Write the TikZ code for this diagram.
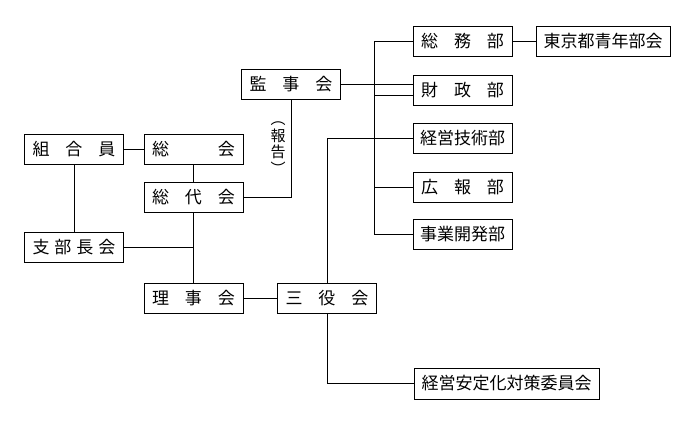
\documentclass[tikz,border=0pt]{standalone}
\usepackage{fontspec}
\newfontfamily\jpfont{Noto Sans CJK JP}
\usetikzlibrary{calc}

\begin{document}
\begin{tikzpicture}[x=1pt, y=-1pt,
    box/.style={draw, line width=1pt, inner sep=0pt, minimum height=30pt, minimum width=99pt,
        font=\jpfont\fontsize{17}{17}\selectfont},
    link/.style={line width=0.8pt}]
        \def\jsp#1{\hbox to 83pt{#1}}
        \useasboundingbox (0,0) rectangle (691,424);

        % left column
        \node[box] (kumiai) at (74,149.5) {\jsp{組\hfill 合\hfill 員}};
        \node[box] (shibu) at (74,247) {\jsp{支\hfill 部\hfill 長\hfill 会}};

        % centre
        \node[box] (kansa) at (291,84) {\jsp{監\hfill 事\hfill 会}};
        \node[box] (soukai) at (193.5,149.5) {\jsp{総\hfill 会}};
        \node[box] (soudai) at (193.5,197) {\jsp{総\hfill 代\hfill 会}};
        \node[box] (riji) at (193.5,298) {\jsp{理\hfill 事\hfill 会}};
        \node[box] (sanyaku) at (327,298) {\jsp{三\hfill 役\hfill 会}};
        \node[font=\jpfont\fontsize{15}{16.5}\selectfont, align=center, inner sep=0pt] (houkoku) at (278,148) {︵\\報\\告\\︶};

        % departments
        \node[box] (soumu) at (462.5,41.5) {\jsp{総\hfill 務\hfill 部}};
        \node[box] (zaisei) at (462.5,90) {\jsp{財\hfill 政\hfill 部}};
        \node[box] (gijutsu) at (462.5,138) {経営技術部};
        \node[box] (kouhou) at (462.5,187) {\jsp{広\hfill 報\hfill 部}};
        \node[box] (jigyou) at (462.5,234.5) {事業開発部};
        \node[box, minimum width=134pt] (tokyo) at (603,41.5) {東京都青年部会};
        \node[box, minimum width=185pt, minimum height=31pt] (antei) at (506.5,383.5) {経営安定化対策委員会};

        \coordinate (bus) at (374,0);

        \draw[link] (kumiai) -- (soukai);
        \draw[link] (kumiai) -- (shibu);
        \draw[link] (soukai) -- (soudai);
        \draw[link] (soudai) -- (riji);
        \draw[link] (shibu.east) -- (shibu.east -| soudai.south);
        \draw[link] (riji) -- (sanyaku);
        \draw[link] (kansa.south) |- (soudai.east);
        \draw[link] (kansa.east) -- (kansa.east -| zaisei.west);
        \draw[link] (soumu.west) -- (soumu.west -| bus) -- (jigyou.west -| bus) -- (jigyou.west);
        \draw[link] ($(zaisei.west)+(0,5)$) -- ($(zaisei.west -| bus)+(0,5)$);
        \draw[link] (kouhou.west) -- (kouhou.west -| bus);
        \draw[link] (sanyaku.north) |- (gijutsu.west);
        \draw[link] (sanyaku.south) |- (antei.west);
        \draw[link] (soumu) -- (tokyo);
    \end{tikzpicture}
\end{document}
